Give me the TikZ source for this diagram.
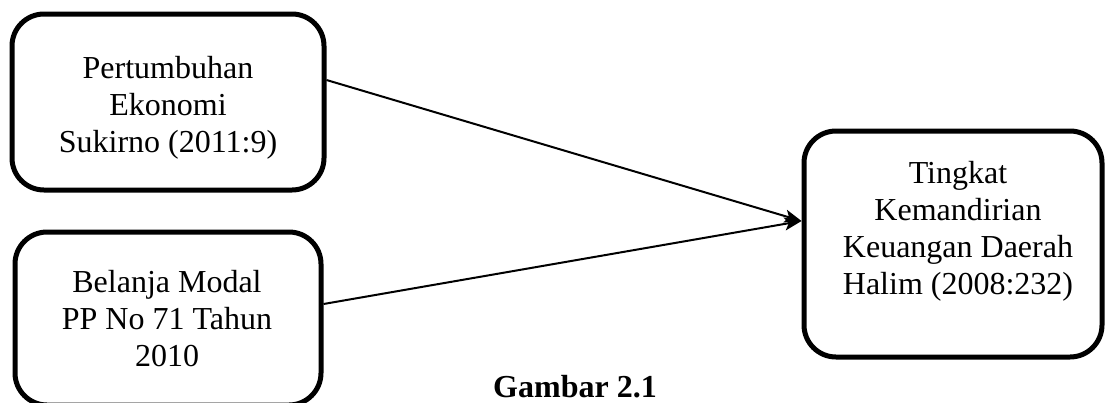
\documentclass[tikz,border=0pt]{standalone}
\usepackage{fontspec}
\setmainfont{Liberation Serif}
\usetikzlibrary{arrows.meta}
\begin{document}
\begin{tikzpicture}[x=1pt,y=-1pt,
  box/.style={draw, line width=5pt, rounded corners=32pt, inner sep=0pt},
  txt/.style={align=center, font=\fontsize{32}{37}\selectfont, inner sep=0pt},
  link/.style={line width=2pt, -{Stealth[length=17pt,width=13pt,inset=4pt]}}]
\useasboundingbox (0,0) rectangle (1105,402);
% boxes
\node[box, minimum width=312pt, minimum height=176pt] (growth) at (168,102) {};
\node[box, minimum width=306pt, minimum height=173pt] (capex) at (168,318.5) {};
\node[box, minimum width=298pt, minimum height=226pt] (indep) at (953,244) {};
% box texts
\node[txt] (growthtxt) at (168,107.6) {Pertumbuhan\\Ekonomi\\Sukirno (2011:9)};
\node[txt] (capextxt) at (167,319) {Belanja Modal\\PP No 71 Tahun\\2010};
\node[txt] (indeptxt) at (958,231) {Tingkat\\Kemandirian\\Keuangan Daerah\\Halim (2008:232)};
% caption
\node[font=\fontsize{32}{37}\selectfont\bfseries, anchor=base, inner sep=0pt] (caption) at (575,397) {Gambar 2.1};
% connectors
\draw[link] ([yshift=22pt]growth.east) -- ([yshift=23pt]indep.west);
\draw[link] ([yshift=14.5pt]capex.east) -- ([yshift=23pt]indep.west);
\end{tikzpicture}
\end{document}
